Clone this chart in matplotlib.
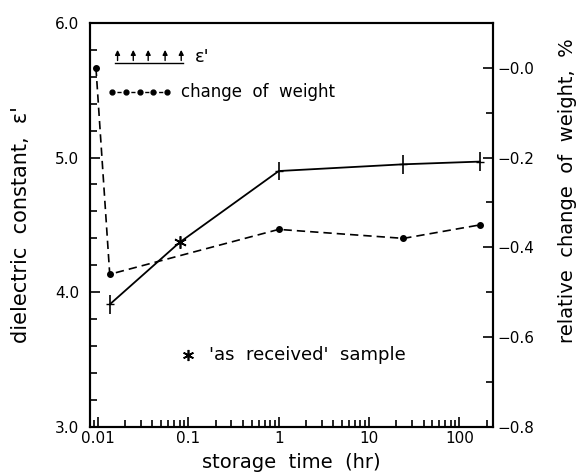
import matplotlib
matplotlib.use("Agg")
import matplotlib.pyplot as plt
import matplotlib.ticker as ticker
import numpy as np

# storage time (hr) and dielectric constant
eps_time = [0.0135, 0.08, 1.0, 24.0, 168.0]
eps_value = [3.91, 4.37, 4.90, 4.95, 4.97]
eps_err = [0.07, 0.0, 0.07, 0.07, 0.07]

# storage time (hr) and relative change of weight (%)
wt_time = [0.0095, 0.0135, 1.0, 24.0, 168.0]
wt_value = [0.0, -0.46, -0.36, -0.38, -0.35]

# 'as received' sample
recv_time = [0.08]
recv_value = [4.37]

plt.rcParams['font.family'] = ['DejaVu Sans']

fig = plt.figure(figsize=(5.78, 4.76), dpi=100)
ax = fig.add_axes([0.156, 0.103, 0.697, 0.849])
ax2 = ax.twinx()

# dielectric constant, solid line with error marks
ax.plot(eps_time, eps_value, color='black', lw=1.3)
idx = [i for i in range(len(eps_time)) if eps_err[i] > 0]
ax.errorbar([eps_time[i] for i in idx], [eps_value[i] for i in idx],
            yerr=[eps_err[i] for i in idx], fmt='_', color='black',
            ms=6, elinewidth=1.2, capsize=0)
ax.plot(recv_time, recv_value, marker=(6, 2, 0), ms=9, color='black', mew=1.2)

# change of weight, dashed line with dots
ax2.plot(wt_time, wt_value, color='black', lw=1.2, ls=(0, (5, 3)),
         marker='o', ms=4)

ax.set_xscale('log')
ax.set_xlim(0.0082, 235)
ax.set_ylim(3.0, 6.0)
ax2.set_ylim(-0.8, 0.1)

ax.set_xticks([0.01, 0.1, 1, 10, 100])
ax.set_xticklabels(['0.01', '0.1', '1', '10', '100'])
ax.xaxis.set_minor_locator(ticker.LogLocator(base=10, subs=np.arange(2, 10)))
ax.xaxis.set_minor_formatter(ticker.NullFormatter())
ax.set_yticks([3, 4, 5, 6])
ax.set_yticklabels(['3.0', '4.0', '5.0', '6.0'])
ax.yaxis.set_minor_locator(ticker.MultipleLocator(0.2))

ax2.set_yticks([-0.8, -0.6, -0.4, -0.2, 0.0])
ax2.yaxis.set_major_formatter(ticker.FuncFormatter(lambda v, p: '\u2212%.1f' % abs(v)))
ax2.yaxis.set_minor_locator(ticker.MultipleLocator(0.1))

ax.tick_params(axis='both', which='both', direction='in', top=False,
               right=False, labelsize=11, width=1.2)
ax.tick_params(axis='both', which='major', length=7)
ax.tick_params(axis='both', which='minor', length=5)
ax.tick_params(axis='x', pad=3)
ax.tick_params(axis='y', pad=8)
ax2.tick_params(axis='y', which='both', direction='in', labelsize=11,
                width=1.2, pad=3)
ax2.tick_params(axis='y', which='major', length=7)
ax2.tick_params(axis='y', which='minor', length=5)

for a in (ax, ax2):
    for s in a.spines.values():
        s.set_linewidth(1.5)

ax.set_xlabel('storage  time  (hr)', fontsize=14, labelpad=5)
ax.set_ylabel("dielectric  constant,  \u03b5'", fontsize=15)
ax.yaxis.set_label_coords(-0.148, 0.50)
ax2.set_ylabel('relative  change  of  weight,  %', fontsize=14,
               rotation=90)
ax2.yaxis.set_label_coords(1.162, 0.585)

# legend drawn by hand
t = ax.transAxes
ax.plot([0.062, 0.23], [0.90, 0.90], color='black', lw=1.0, transform=t)
for xa in [0.068, 0.107, 0.144, 0.186, 0.226]:
    ax.annotate('', xy=(xa, 0.94), xytext=(xa, 0.90), xycoords=t,
                arrowprops=dict(arrowstyle='-|>', color='black', lw=1.0,
                                mutation_scale=7))
ax.text(0.26, 0.915, "\u03b5'", transform=t, fontsize=13, va='center')
ax.plot([0.05, 0.19], [0.829, 0.829], color='black', lw=1.0,
        ls=(0, (3, 2)), transform=t)
ax.plot(np.linspace(0.055, 0.19, 5), [0.829] * 5, 'o', color='black', ms=3.5,
        transform=t)
ax.text(0.225, 0.829, 'change  of  weight', transform=t, fontsize=12,
        va='center')

ax.plot([0.243], [0.178], marker=(6, 2, 0), ms=8, color='black', mew=1.2,
        transform=t)
ax.text(0.295, 0.178, "'as  received'  sample", transform=t, fontsize=13,
        va='center')

fig.savefig('out.png', dpi=100)
